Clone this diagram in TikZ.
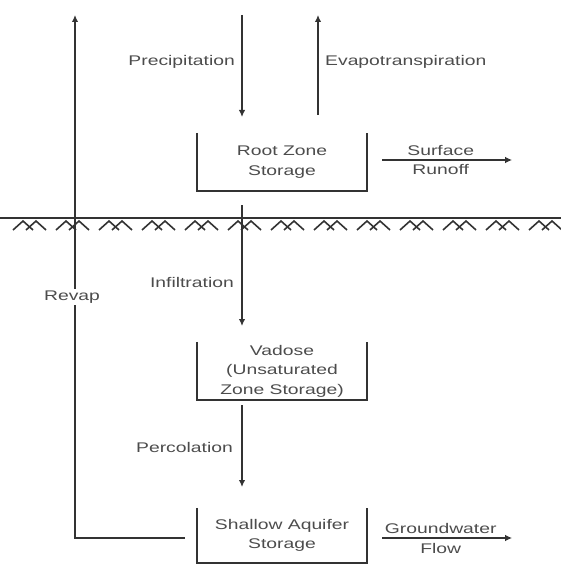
\documentclass[tikz,border=0pt]{standalone}
\usepackage{fontspec}
\setmainfont{Liberation Sans}[FakeStretch=1.38]
\usetikzlibrary{arrows.meta,positioning}

\definecolor{linegray}{gray}{0.2}
\definecolor{textgray}{gray}{0.3}

\begin{document}
\begin{tikzpicture}[x=1pt,y=-1pt,
  flow/.style={draw=linegray,line width=1.7pt,-{Latex[length=7pt,width=6.5pt]}},
  wall/.style={draw=linegray,line width=1.7pt},
  lbl/.style={text=textgray,font=\fontsize{14}{19.5}\selectfont,inner sep=0pt},
  store/.style={lbl,align=center,minimum width=170pt,minimum height=58pt}]

\useasboundingbox (0,0) rectangle (561,564);

\newcommand\GL{218}   % ground level
\newcommand\MX{242}   % main vertical flow

% storages (open on top)
\node[store] (root)    at (282,162) {Root Zone\\Storage};
\node[store] (vadose)  at (282,371) {Vadose\\(Unsaturated\\Zone Storage)};
\node[store,minimum height=55pt] (aquifer) at (282,535.5) {Shallow Aquifer\\Storage};

\foreach \s in {root,vadose,aquifer}
  \draw[wall] (\s.north west) -- (\s.south west) -- (\s.south east) -- (\s.north east);

% end points of the fluxes
\coordinate (precTop)  at (\MX,15);
\coordinate (precEnd)  at (\MX,117);
\coordinate (evapTop)  at (318,15);
\coordinate (evapBot)  at (318,115);
\coordinate (infStart) at (\MX,205);
\coordinate (infEnd)   at (\MX,326);
\coordinate (percEnd)  at (\MX,487);
\coordinate (revTop)   at (75,15);
\coordinate (revCorner) at (75,538);

\draw[flow] (precTop) -- (precEnd);
\draw[flow] (evapBot) -- (evapTop);
\draw[flow] (infStart) -- (infEnd);
\draw[flow] ([yshift=-5pt]vadose.south -| percEnd) -- (percEnd);

\draw[flow] ([xshift=15pt]root.east |- 0,160) -- ++(130,0)
  node[lbl,pos=0.45,above=4pt] (surf) {Surface}
  node[lbl,pos=0.45,below=4pt] (runoff) {Runoff};
\draw[flow] ([xshift=15pt]aquifer.east |- revCorner) -- ++(130,0)
  node[lbl,pos=0.45,above=4pt] (gw) {Groundwater}
  node[lbl,pos=0.45,below=4pt] (gwflow) {Flow};
\draw[flow] ([xshift=-12pt]aquifer.west |- revCorner) -- (revCorner) -- (revTop);

% labels
\node[lbl,anchor=east] (prec) at (235,62) {Precipitation};
\node[lbl,anchor=west] (evap) at (325,62) {Evapotranspiration};
\node[lbl,anchor=east] (inf)  at (234,282) {Infiltration};
\node[lbl,anchor=east] (perc) at (233,447) {Percolation};
\node[lbl,fill=white,inner sep=2pt] (revap) at (72,297) {Revap};

% ground surface
\draw[draw=linegray,line width=1.3pt] (0,\GL) -- (561,\GL);
\foreach \k in {0,...,12}{
  \pgfmathsetmacro\hx{13+43*\k}
  \draw[draw=linegray,line width=1.6pt]
    (\hx,\GL+12) -- (\hx+10,\GL+3) -- (\hx+20,\GL+12)
    (\hx+13,\GL+12) -- (\hx+23,\GL+3) -- (\hx+33,\GL+12);
}

\end{tikzpicture}
\end{document}
